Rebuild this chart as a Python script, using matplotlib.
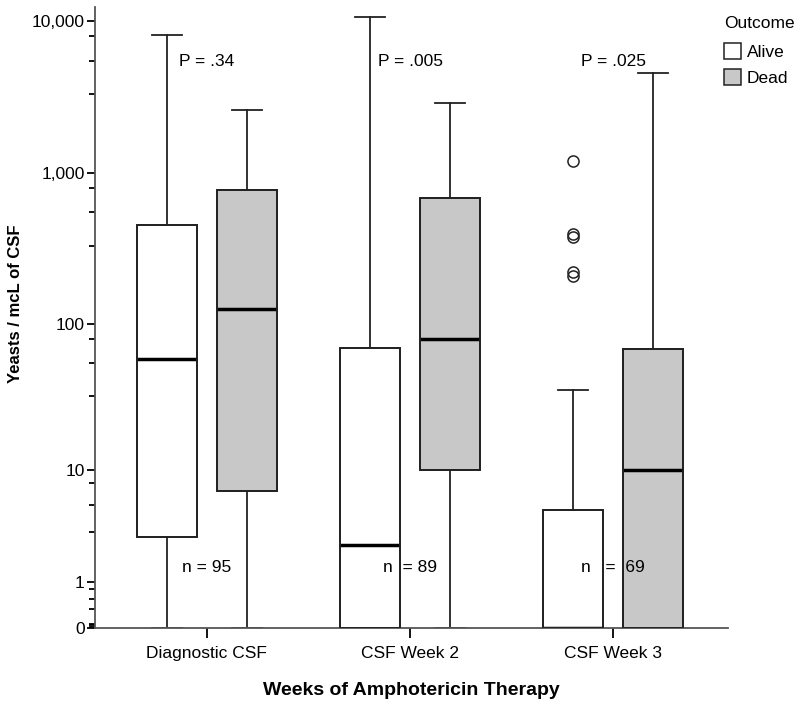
import numpy as np
import matplotlib.pyplot as plt
from matplotlib.patches import Patch, PathPatch
from matplotlib.ticker import FixedLocator, FuncFormatter

plt.rcParams['font.family'] = ['Liberation Sans', 'DejaVu Sans']

groups = ['Diagnostic CSF', 'CSF Week 2', 'CSF Week 3']
outcomes = ['Alive', 'Dead']

# box summaries (yeasts / mcL), one value per group
alive_q1 = [3, 0, 0]
alive_med = [58, 2.5, 0]
alive_q3 = [450, 69, 5]
alive_lo = [0, 0, 0]
alive_hi = [8100, 10700, 36]
alive_fliers = [[], [], [1200, 395, 375, 222, 207]]

dead_q1 = [7, 10, 0]
dead_med = [125, 80, 10]
dead_q3 = [770, 685, 68]
dead_lo = [0, 0, 0]
dead_hi = [2600, 2900, 4560]
dead_fliers = [[], [], []]

p_labels = ['P = .34', 'P = .005', 'P = .025']
n_labels = ['n = 95', 'n  = 89', 'n   =  69']
p_y = 5400
n_y = 1.5

y_major = [0, 1, 10, 100, 1000, 10000]
y_minor = [m * f for m in [1, 10, 100, 1000, 10000] for f in (0.8, 0.55, 0.33)]
y_minor += [0.02, 0.04, 0.06]   # the little dark block at 0

fill_colors = ['white', '#c8c8c8']


def fwd(v):
    return np.log10(np.asarray(v, dtype=float) + 1)


def inv(v):
    return 10 ** np.asarray(v, dtype=float) - 1


def make_stats(q1, med, q3, lo, hi, fl):
    return [dict(med=med[i], q1=q1[i], q3=q3[i], whislo=lo[i], whishi=hi[i],
                 fliers=fl[i]) for i in range(len(groups))]


fig = plt.figure(figsize=(8, 7.08), dpi=100)
ax = fig.add_axes([0.119, 0.113, 0.791, 0.877])
ax.set_yscale('function', functions=(fwd, inv))

x = np.arange(len(groups))
offset = 0.197
width = 0.296
edge = '#222222'

all_boxes = []
for k, (st, col) in enumerate([
        (make_stats(alive_q1, alive_med, alive_q3, alive_lo, alive_hi, alive_fliers), fill_colors[0]),
        (make_stats(dead_q1, dead_med, dead_q3, dead_lo, dead_hi, dead_fliers), fill_colors[1])]):
    pos = x + (-offset if k == 0 else offset)
    res = ax.bxp(st, positions=pos, widths=width, patch_artist=True,
                 manage_ticks=False, zorder=2,
                 boxprops=dict(facecolor=col, edgecolor=edge, linewidth=1.3),
                 medianprops=dict(color='black', linewidth=2.5),
                 whiskerprops=dict(color=edge, linewidth=1.3),
                 capprops=dict(color=edge, linewidth=1.3),
                 flierprops=dict(marker='o', markerfacecolor='none',
                                 markeredgecolor=edge, markersize=8,
                                 markeredgewidth=1.1))
    all_boxes += res['boxes']

# box outlines above the n labels, as in the original
for b in all_boxes:
    ax.add_patch(PathPatch(b.get_path(), facecolor='none', edgecolor=edge,
                           linewidth=1.3, zorder=3))

for i in range(len(groups)):
    ax.text(x[i], p_y, p_labels[i], ha='center', va='center', fontsize=12.5)
    ax.text(x[i], n_y, n_labels[i], ha='center', va='center', fontsize=12.5,
            zorder=2.5)

ax.set_xlim(-0.55, 2.565)
ax.set_ylim(0, 12400)
ax.set_xticks(x)
ax.set_xticklabels(groups, fontsize=12.5)
ax.yaxis.set_major_locator(FixedLocator(y_major))
ax.yaxis.set_minor_locator(FixedLocator(y_minor))
ax.yaxis.set_major_formatter(FuncFormatter(lambda v, p: '{:,.0f}'.format(v)))
ax.tick_params(axis='y', which='major', labelsize=12.5, length=6, width=1.3, pad=1.5)
ax.tick_params(axis='y', which='minor', length=4, width=1.3)
ax.tick_params(axis='x', length=7, width=1.3, pad=6)

for s in ['top', 'right']:
    ax.spines[s].set_visible(False)
for s in ['left', 'bottom']:
    ax.spines[s].set_color('#555555')
    ax.spines[s].set_linewidth(1.3)

ax.set_ylabel('Yeasts / mcL of CSF', fontsize=12, fontweight='bold')
ax.yaxis.set_label_coords(-0.1137, 0.523)
ax.set_xlabel('Weeks of Amphotericin Therapy', fontsize=14,
              fontweight='bold', labelpad=15)

handles = [Patch(facecolor=fill_colors[j], edgecolor=edge, linewidth=1.1,
                 label=outcomes[j]) for j in range(2)]
leg = fig.legend(handles=handles, title='Outcome', loc='upper left',
                 bbox_to_anchor=(0.905, 0.978), frameon=False, fontsize=12.5,
                 title_fontsize=12.5, handlelength=1.0, handleheight=1.0,
                 handletextpad=0.3, labelspacing=0.55, borderpad=0,
                 borderaxespad=0)
leg._legend_box.align = 'left'
leg._legend_box.sep = 9

fig.savefig('out.png', dpi=100)
